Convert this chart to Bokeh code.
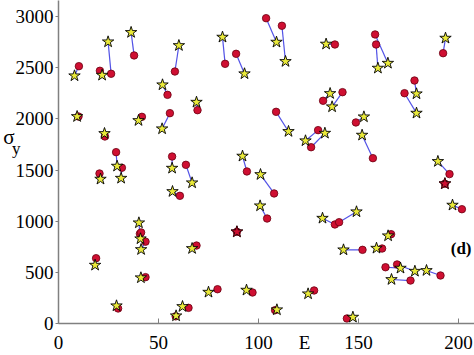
import numpy as np
from bokeh.plotting import figure
from bokeh.models import Range1d, Label, FixedTicker, LinearAxis
from bokeh.embed import file_html
from bokeh.resources import INLINE

# pairs: circle (E, sigma_y) joined to star (E, sigma_y)
circle_E = [10.2, 10.0, 20.7, 26.3, 37.8, 23.2, 41.7, 28.8, 31.7, 20.5,
            58.2, 54.5, 55.7, 69.5, 83.3, 88.8, 103.8, 111.7, 108.8, 56.8,
            63.7, 94.2, 107.8, 138.2, 158.3, 158.8, 192.3, 132.3, 142.0, 178.0,
            173.0, 148.7, 157.2, 129.8, 126.3, 195.5, 40.7, 41.3, 43.5, 18.8,
            43.5, 29.8, 60.7, 104.3, 89.2, 69.0, 79.5, 97.0, 65.0, 58.6,
            108.3, 127.8, 193.2, 201.7, 138.2, 140.3, 166.3, 152.0, 161.8, 163.5,
            169.3, 191.0, 176.0, 144.2]
circle_sigma = [2515, 2023, 2470, 2441, 2620, 1828, 2020, 1675, 1522, 1466,
                2463, 2235, 2056, 2085, 2538, 2636, 2984, 2910, 2069, 1632,
                1551, 1486, 1271, 2727, 2825, 2727, 2642, 2177, 2261, 2375,
                2251, 1965, 1616, 1890, 1723, 1460, 877, 890, 800, 638,
                453, 147, 1248, 1026, 896, 762, 335, 303, 153, 70,
                130, 323, 1366, 1117, 968, 990, 873, 720, 733, 550,
                577, 469, 420, 49]
star_E = [8.0, 9.3, 21.8, 24.8, 36.3, 23.0, 40.0, 29.3, 31.3, 21.0,
          60.2, 52.0, 51.8, 69.0, 82.0, 93.0, 109.0, 113.5, 115.0, 56.8,
          66.8, 92.0, 101.0, 133.8, 164.7, 159.7, 193.5, 135.8, 136.8, 179.0,
          179.0, 152.7, 151.8, 123.5, 133.2, 189.7, 40.2, 41.0, 41.3, 18.3,
          41.2, 29.0, 57.0, 100.8, 89.2, 66.8, 75.0, 94.0, 62.0, 58.8,
          109.2, 124.8, 193.2, 197.0, 132.0, 149.0, 164.8, 142.5, 159.0, 171.0,
          178.2, 184.0, 166.5, 147.2]
star_sigma = [2421, 2023, 2427, 2753, 2845, 1857, 1984, 1538, 1420, 1411,
              2717, 2333, 1903, 2163, 2799, 2441, 2750, 2561, 1877, 1518,
              1375, 1636, 1456, 2731, 2544, 2496, 2789, 2248, 2118, 2245,
              2056, 2020, 1841, 1786, 1860, 1584, 984, 828, 723, 570,
              447, 173, 1290, 1150, 896, 733, 306, 326, 166, 75,
              134, 290, 1366, 1157, 1029, 1092, 857, 720, 736, 541,
              511, 518, 430, 62]

x_ticks = [0, 50, 100, 150, 200]
y_ticks = [0, 500, 1000, 1500, 2000, 2500, 3000]
x_label = "E"
x_label_at = 123
y_label = "σ"
y_label_sub = "y"
panel_tag = "(d)"

FONT = "Liberation Serif"

p = figure(width=474, height=355, output_backend="svg", toolbar_location=None,
           x_range=Range1d(0, 208), y_range=Range1d(0, 3157),
           min_border_left=58, min_border_right=0, min_border_top=0,
           min_border_bottom=32)
p.grid.visible = False
p.outline_line_color = None
p.background_fill_color = "white"

for ax in (p.xaxis[0], p.yaxis[0]):
    ax.axis_line_color = "#808080"
    ax.axis_line_width = 1.5
    ax.major_tick_line_color = "#808080"
    ax.minor_tick_line_color = None
    ax.major_label_text_font = FONT
    ax.major_label_text_font_size = "19px"
    ax.major_label_text_color = "black"

# x axis: line + inward ticks only (labels carried by the next axis)
p.xaxis[0].ticker = FixedTicker(ticks=x_ticks)
p.xaxis[0].major_tick_in = 5
p.xaxis[0].major_tick_out = 0
p.xaxis[0].major_label_standoff = 0
p.xaxis[0].major_label_text_font_size = "0px"
p.xaxis[0].major_label_overrides = {t: "" for t in x_ticks}

p.yaxis[0].ticker = FixedTicker(ticks=y_ticks)
p.yaxis[0].major_tick_in = 0
p.yaxis[0].major_tick_out = 3
p.yaxis[0].major_label_standoff = 2


def text_axis(ticks, overrides, size, standoff):
    ax = LinearAxis(ticker=FixedTicker(ticks=ticks),
                    major_label_overrides=overrides)
    ax.axis_line_color = None
    ax.major_tick_line_color = None
    ax.minor_tick_line_color = None
    ax.major_tick_in = 0
    ax.major_tick_out = 0
    ax.major_label_standoff = standoff
    ax.major_label_text_font = FONT
    ax.major_label_text_font_size = size
    ax.major_label_text_color = "black"
    return ax


# x tick labels together with the off-centre axis title "E"
p.add_layout(text_axis(x_ticks + [x_label_at], {x_label_at: x_label},
                       "19px", 8), "below")
# y axis title sigma with subscript y
p.add_layout(text_axis([1711], {1711: y_label_sub}, "17px", -8), "left")
p.add_layout(text_axis([1818], {1818: y_label}, "21px", -6), "left")

cE = np.array(circle_E); cS = np.array(circle_sigma)
sE = np.array(star_E); sS = np.array(star_sigma)

p.segment(x0=cE, y0=cS, x1=sE, y1=sS, line_color="#5252e6", line_width=1.2)
p.scatter(cE, cS, marker="circle", size=7.5, fill_color="#cf0f32",
          line_color="#6a0010", line_width=0.8)
p.scatter(sE, sS, marker="star", size=12, fill_color="#eaea3a",
          line_color="black", line_width=0.9)
same = (np.abs(cE - sE) < 1e-9) & (np.abs(cS - sS) < 1e-9)
p.scatter(sE[same], sS[same], marker="star", size=12, fill_color="#cf0f32",
          line_color="#3a0008", line_width=0.9)

p.add_layout(Label(x=206.5, y=733, text=panel_tag, text_font=FONT,
                   text_font_size="17px", text_font_style="bold",
                   text_align="right", text_baseline="middle",
                   text_color="black"))

open("out.html", "w").write(file_html(p, INLINE))
